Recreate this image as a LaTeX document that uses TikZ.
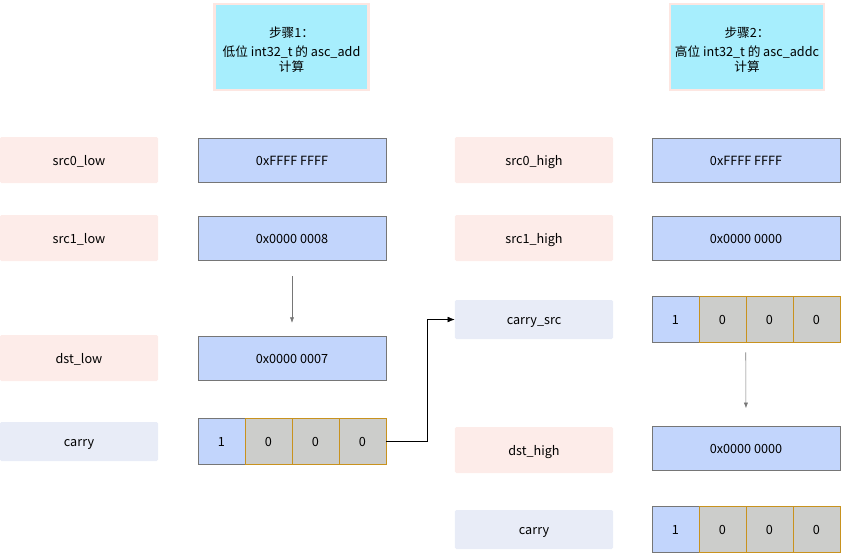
\documentclass[tikz,border=0pt]{standalone}
\usepackage{fontspec}
\setmainfont{Noto Sans CJK SC}
\usetikzlibrary{positioning, calc, arrows.meta}
\definecolor{mypink}{HTML}{FDECE9}
\definecolor{mylavender}{HTML}{E8ECF7}
\definecolor{myblue}{HTML}{C2D5FC}
\definecolor{mygray}{HTML}{CCCDCB}
\definecolor{myorange}{HTML}{C8921E}
\definecolor{mycyan}{HTML}{A7EEFD}
\definecolor{myedge}{HTML}{767676}
\definecolor{myrim}{HTML}{FDE6E1}
\tikzset{
	smalltext/.style={font=\fontsize{9}{11}\selectfont, text height=0.72em, text depth=0pt}
}
\tikzset{
	labelbox/.style={smalltext, fill=#1, rounded corners=1pt, minimum width=3.95cm, minimum height=1.15cm, inner sep=0pt}
}
\tikzset{
	valuebox/.style={smalltext, draw=myedge, fill=myblue, minimum width=4.7cm, minimum height=1.1cm, inner sep=0pt}
}
\tikzset{
	bitcell/.style={smalltext, draw=myorange, fill=mygray, minimum width=1.175cm, minimum height=1.15cm, inner sep=0pt}
}
\tikzset{
	stepbox/.style={font=\fontsize{9}{10.8}\selectfont, draw=myrim, line width=1.8pt, fill=mycyan, minimum width=3.85cm, minimum height=2.15cm, align=center}
}
\tikzset{
	grayarrow/.style={draw=myedge, -{Latex[length=4pt,width=3pt]}}
}
\tikzset{
	carrybits/.pic={
			\node[bitcell, draw=myedge, fill=myblue] (-1) at (-70.5,0) {1};
			\foreach \i/\dx in {2/-23.5, 3/23.5, 4/70.5}
				\node[bitcell] (-\i) at (\dx,0) {0};
		}
}

\begin{document}
\begin{tikzpicture}[x=0.025cm, y=-0.025cm]
\useasboundingbox (0,0) rectangle (843,555);

% step headers
\node[stepbox] (stepA) at (291.5,47) {};
\node[stepbox] (stepB) at (747,47) {};
\node[stepbox, draw=none, fill=none] (stepAtext) at (291.5,49.5) {步骤1：\\[2.5pt]低位 int32\_t 的 asc\_add\\计算};
\node[stepbox, draw=none, fill=none] (stepBtext) at (747,49.5) {步骤2：\\[2.5pt]高位 int32\_t 的 asc\_addc\\计算};

% low part
\node[labelbox=mypink] (lsrc0) at (79,160) {src0\_low};
\node[labelbox=mypink] (lsrc1) at (79,238) {src1\_low};
\node[labelbox=mypink] (ldst) at (79,358) {dst\_low};
\node[labelbox=mylavender, minimum height=0.975cm] (lcarry) at (79,441.5) {carry};

\node[valuebox] (lval0) at (292,160) {0xFFFF FFFF};
\node[valuebox] (lval1) at (292,238) {0x0000 0008};
\node[valuebox] (lvaldst) at (292,358) {0x0000 0007};
\pic (lc) at (292,441) {carrybits};

% high part
\node[labelbox=mypink] (hsrc0) at (534,160) {src0\_high};
\node[labelbox=mypink] (hsrc1) at (534,238) {src1\_high};
\node[labelbox=mylavender, minimum height=0.975cm] (hcsrc) at (534,319.5) {carry\_src};
\node[labelbox=mypink] (hdst) at (534,450) {dst\_high};
\node[labelbox=mylavender, minimum height=0.975cm] (hcarry) at (534,529.5) {carry};

\node[valuebox] (hval0) at (746,160) {0xFFFF FFFF};
\node[valuebox] (hval1) at (746,238) {0x0000 0000};
\pic (hs) at (746,319) {carrybits};
\node[valuebox] (hvaldst) at (746,448.5) {0x0000 0000};
\pic (hc) at (746,529.5) {carrybits};

% arrows
\draw[grayarrow, shorten <=0.4cm, shorten >=0.32cm] (lval1.south) -- (lvaldst.north);
\draw[grayarrow, shorten <=0.25cm, shorten >=0.45cm] (hs-3.south west) -- (hvaldst.north);
\draw[-{Latex[length=5pt,width=4pt]}] (lc-4.east) -- ++(41,0) |- (hcsrc.west);

\end{tikzpicture}
\end{document}
